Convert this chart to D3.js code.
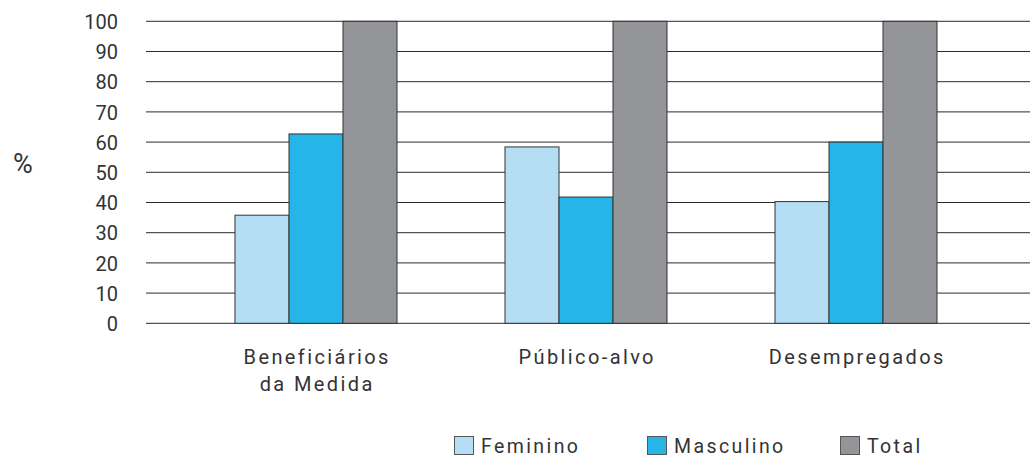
<!DOCTYPE html>
<html>
<head>
<meta charset="utf-8">
<script src="https://cdn.jsdelivr.net/npm/d3@7"></script>
<style>
  html, body { margin: 0; padding: 0; background: #fff; }
  svg { display: block; }
  text { font-family: Roboto, "DejaVu Sans", sans-serif; fill: #333; }
</style>
</head>
<body>
<svg id="chart" width="1030" height="459"></svg>
<script>
const categories = [["Beneficiários", "da Medida"], ["Público-alvo"], ["Desempregados"]];
const seriesNames = ["Feminino", "Masculino", "Total"];
const feminino = [35.8, 58.4, 40.3];
const masculino = [62.7, 41.8, 60.0];
const total = [100, 100, 100];
const yTicks = [0, 10, 20, 30, 40, 50, 60, 70, 80, 90, 100];
const colors = ["#b5ddf4", "#25b5e8", "#939598"];

const values = [feminino, masculino, total];
const catKeys = categories.map(c => c.join(" "));

const svg = d3.select("#chart");
const gridLeft = 146, gridRight = 1030;

const x = d3.scaleBand().domain(catKeys).range([181, 991]).paddingInner(0.4).paddingOuter(0.2);
const xs = d3.scaleBand().domain(seriesNames).range([0, x.bandwidth()]);
const y = d3.scaleLinear().domain([0, 100]).range([323.3, 21.3]);

// gridlines
svg.append("g").selectAll("line").data(yTicks).join("line")
  .attr("x1", gridLeft).attr("x2", gridRight)
  .attr("y1", d => y(d)).attr("y2", d => y(d))
  .attr("stroke", "#2a2a2a").attr("stroke-width", 1);

// y labels via axis
const yAxis = d3.axisLeft(y).tickValues(yTicks).tickSize(0).tickPadding(0);
const ya = svg.append("g").attr("transform", "translate(118,0)").call(yAxis);
ya.select(".domain").remove();
ya.selectAll("text").attr("font-size", 20).attr("font-weight", 400)
  .attr("fill", "#333").attr("font-family", "Roboto, sans-serif").attr("dy", "0.36em");

// % label
svg.append("text").attr("x", 23).attr("y", 173).attr("text-anchor", "middle")
  .attr("font-size", 27).attr("font-weight", 400).text("%");

// bars
const groups = svg.append("g").selectAll("g").data(catKeys).join("g")
  .attr("transform", d => `translate(${x(d)},0)`);
groups.selectAll("rect").data((d, i) => seriesNames.map((s, j) => ({ s, v: values[j][i], j })))
  .join("rect")
  .attr("x", d => xs(d.s)).attr("width", xs.bandwidth())
  .attr("y", d => y(d.v)).attr("height", d => y(0) - y(d.v))
  .attr("fill", d => colors[d.j]).attr("stroke", "#333").attr("stroke-width", 1);

// x labels
const ls = 2.4;
const xl = svg.append("g");
categories.forEach((lines, i) => {
  const cx = x(catKeys[i]) + x.bandwidth() / 2;
  lines.forEach((t, k) => {
    xl.append("text").attr("x", cx + ls / 2).attr("y", 364 + k * 27)
      .attr("text-anchor", "middle").attr("font-size", 20).attr("font-weight", 400)
      .attr("letter-spacing", ls).text(t);
  });
});

// legend
const legX = [454, 647, 840];
const lg = svg.append("g");
seriesNames.forEach((s, i) => {
  lg.append("rect").attr("x", legX[i] + 0.5).attr("y", 436.5).attr("width", 19).attr("height", 18)
    .attr("fill", colors[i]).attr("stroke", "#555").attr("stroke-width", 1);
  lg.append("text").attr("x", legX[i] + 27).attr("y", 453)
    .attr("font-size", 19.5).attr("font-weight", 400).attr("letter-spacing", ls).text(s);
});
</script>
</body>
</html>
